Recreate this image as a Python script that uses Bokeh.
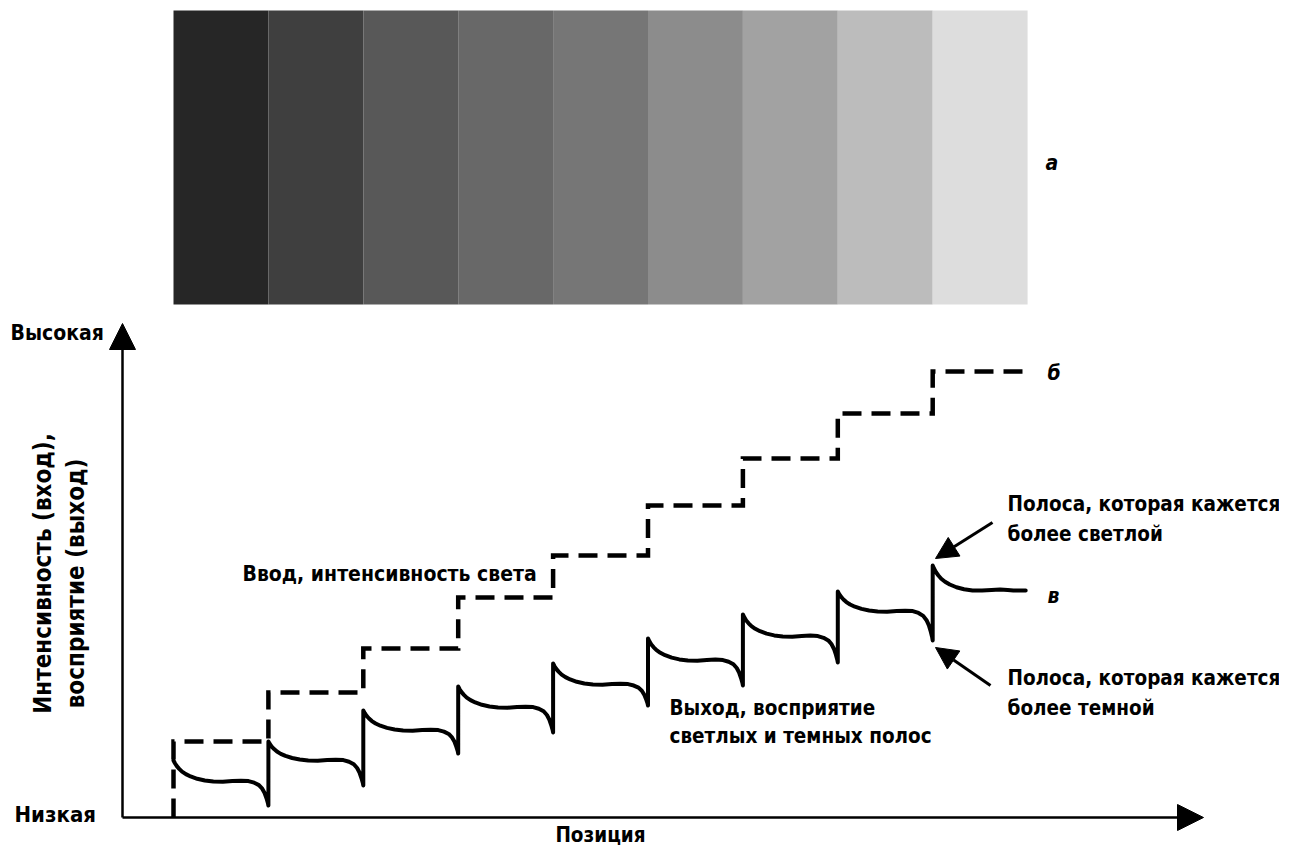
import numpy as np
from bokeh.plotting import figure
from bokeh.models import Arrow, NormalHead, Label
from bokeh.embed import file_html
from bokeh.resources import INLINE

# ---------------- data ----------------
band_index = [0, 1, 2, 3, 4, 5, 6, 7, 8]
band_gray = ["#262626", "#3f3f3f", "#585858", "#686868", "#767676",
             "#8c8c8c", "#a2a2a2", "#bcbcbc", "#dddddd"]
# input (light intensity) level of each band, arbitrary units
input_level = [7.6, 12.5, 16.9, 22.0, 26.2, 31.2, 35.9, 40.4, 44.6]
# output (perception): overshoot at left edge, plateau, undershoot at right edge
out_spike = [5.7, 7.6, 10.7, 13.1, 15.4, 17.9, 20.3, 22.6, 25.2]
out_plateau = [3.6, 5.7, 8.7, 11.0, 13.3, 15.7, 18.1, 20.6, 22.7]
out_dip = [1.2, 3.2, 6.4, 8.5, 11.2, 13.2, 15.5, 17.7, None]
# shape of the perceived curve inside one band (fraction of band, relative level)
profile_f = [0.00, 0.015, 0.035, 0.06, 0.09, 0.13, 0.18, 0.25, 0.33, 0.42, 0.52,
             0.62, 0.71, 0.79, 0.85, 0.90, 0.935, 0.96, 0.98, 0.995, 1.00]
profile_v = [1.00, 0.87, 0.73, 0.60, 0.47, 0.35, 0.24, 0.13, 0.05, 0.00, -0.01,
             0.02, 0.04, 0.02, -0.05, -0.15, -0.30, -0.48, -0.70, -0.90, -1.00]
last_band_end = 0.98

# ---------------- layout helpers ----------------
W, H = 1279, 846
X0_PX, BAND_PX = 173.0, 94.9      # px of band 0 left edge, px per band
Y0_PX, UNIT_PX = 817.0, 10.0      # px of zero level, px per unit


def dx(px):
    return (px - X0_PX) / BAND_PX


def dy(py):
    return (Y0_PX - py) / UNIT_PX


p = figure(width=W, height=H, output_backend="svg", toolbar_location=None,
           x_range=(-X0_PX / BAND_PX, (W - X0_PX) / BAND_PX),
           y_range=((Y0_PX - H) / UNIT_PX, Y0_PX / UNIT_PX),
           x_axis_type=None, y_axis_type=None, min_border=0)
p.grid.visible = False
p.outline_line_color = None
p.background_fill_color = "white"
p.border_fill_color = "white"

# ---------------- a: gray bands ----------------
p.quad(left=band_index, right=[b + 1 for b in band_index],
       bottom=dy(304), top=dy(10), fill_color=band_gray, line_color=None)

# ---------------- b: input (dashed staircase) ----------------
xs_in, ys_in = [0.0], [0.0]
for i, lvl in enumerate(input_level):
    xs_in.append(float(i)); ys_in.append(lvl)
    xs_in.append(float(i + 1) if i < len(input_level) - 1 else i + last_band_end)
    ys_in.append(lvl)
p.line(xs_in, ys_in, line_color="black", line_width=4.5, line_dash="19 10",
       line_join="miter", line_cap="butt")

# ---------------- c: output (perceived) ----------------
xs_out, ys_out = [], []
for i in band_index:
    sp, pl, dp = out_spike[i], out_plateau[i], out_dip[i]
    for f, v in zip(profile_f, profile_v):
        if dp is None:
            if f > last_band_end:
                break
            v = max(v, 0.0)
        if v >= 0:
            y = pl + v * (sp - pl)
        else:
            y = pl + v * (pl - dp)
        xs_out.append(i + f); ys_out.append(y)
p.line(xs_out, ys_out, line_color="black", line_width=4, line_join="round",
       line_cap="round")

# ---------------- axes as arrows ----------------
ax_x = dx(122)
p.add_layout(Arrow(x_start=ax_x, y_start=dy(817), x_end=ax_x, y_end=dy(323),
                   line_width=2.5, line_color="black",
                   end=NormalHead(size=26, fill_color="black", line_color="black")))
p.add_layout(Arrow(x_start=ax_x, y_start=dy(817), x_end=dx(1203), y_end=dy(817),
                   line_width=2.5, line_color="black",
                   end=NormalHead(size=26, fill_color="black", line_color="black")))

# pointer arrows
for (x1, y1, x2, y2) in [(992, 522, 935, 558), (990, 685, 935, 647)]:
    p.add_layout(Arrow(x_start=dx(x1), y_start=dy(y1), x_end=dx(x2), y_end=dy(y2),
                       line_width=3, line_color="black",
                       end=NormalHead(size=22, fill_color="black", line_color="black")))

FONT = "'DejaVu Sans Condensed', 'Liberation Sans', sans-serif"


def lab(text, px, py, size=20.5, align="left", angle=0.0, style="bold"):
    p.add_layout(Label(x=dx(px), y=dy(py), text=text, text_font=FONT,
                       text_font_size=f"{size}px", text_font_style=style,
                       text_align=align, text_baseline="middle", angle=angle,
                       text_color="black"))


lab("Высокая", 10, 332, size=21)
lab("Низкая", 14, 814, size=22)
lab("Позиция", 600, 834, align="center")
lab("Интенсивность (вход),", 42, 573, size=24, align="center", angle=np.pi / 2)
lab("восприятие (выход)", 75, 583, size=24, align="center", angle=np.pi / 2)
lab("Ввод, интенсивность света", 242, 573, size=21)
lab("Выход, восприятие", 669, 707)
lab("светлых и темных полос", 669, 735)
lab("Полоса, которая кажется", 1007, 503)
lab("более светлой", 1007, 533)
lab("Полоса, которая кажется", 1007, 677)
lab("более темной", 1007, 707)
lab("а", 1045, 162, size=21, style="bold italic")
lab("б", 1047, 372, size=21, style="bold italic")
lab("в", 1047, 595, size=21, style="bold italic")

open("out.html", "w").write(file_html(p, INLINE))
